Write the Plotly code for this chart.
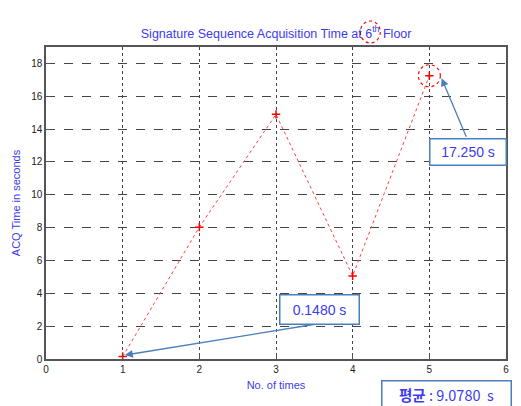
import plotly.graph_objects as go

trials = [1, 2, 3, 4, 5]
acq_time = [0.148, 8.03, 14.9, 5.06, 17.25]
x_ticks = [0, 1, 2, 3, 4, 5, 6]
y_ticks = [0, 2, 4, 6, 8, 10, 12, 14, 16, 18]
mean_val = 9.078

BLUE_TXT = "#3b3bf0"
BOX = "#4a7ebb"
FONT = "Liberation Sans"

fig = go.Figure()
fig.add_trace(go.Scatter(
    x=trials, y=acq_time, mode="lines+markers",
    line=dict(color="#ff4040", width=1, dash="dot"),
    marker=dict(symbol="cross-thin", size=6, color="red", line=dict(color="red", width=1.5)),
    showlegend=False, cliponaxis=False,
))

fig.update_layout(
    width=521, height=406,
    margin=dict(l=46, r=13, t=47, b=47),
    paper_bgcolor="white", plot_bgcolor="white",
    title=dict(text="Signature Sequence Acquisition Time at 6<sup>th</sup> Floor",
               x=0.53, xanchor="center", y=0.918, yanchor="middle",
               font=dict(family=FONT, size=12.5, color=BLUE_TXT)),
    xaxis=dict(range=[0, 6], tickvals=x_ticks, showgrid=True, gridcolor="#444",
               griddash="dot", gridwidth=1, zeroline=False, showline=True,
               linecolor="#555", linewidth=1.5, mirror=True, ticks="inside", ticklen=4,
               tickcolor="#555", tickfont=dict(family=FONT, size=10, color="#222"),
               title=dict(text="No. of times", font=dict(family=FONT, size=11, color=BLUE_TXT), standoff=8)),
    yaxis=dict(range=[0, 19], tickvals=y_ticks, showgrid=True, gridcolor="#444",
               griddash="dash", gridwidth=1, zeroline=False, showline=True,
               linecolor="#555", linewidth=1.5, mirror=True, ticks="inside", ticklen=4,
               tickcolor="#555", tickfont=dict(family=FONT, size=10, color="#222"),
               title=dict(text="ACQ Time in seconds", font=dict(family=FONT, size=11, color=BLUE_TXT), standoff=8)),
)

# circles
fig.add_shape(type="circle", xref="x", yref="y", xsizemode="pixel", ysizemode="pixel",
              xanchor=trials[4], yanchor=acq_time[4], x0=-11, x1=11, y0=-11, y1=11,
              line=dict(color="red", width=1.2, dash="dot"))
fig.add_shape(type="circle", xref="paper", yref="paper", xsizemode="pixel", ysizemode="pixel",
              xanchor=0.705, yanchor=1.048, x0=-10, x1=10, y0=-11, y1=11,
              line=dict(color="red", width=1.2, dash="dot"))

# arrows
fig.add_annotation(x=1.03, y=0.24, ax=3.53, ay=2.13, axref="x", ayref="y", xref="x", yref="y",
                   text="", showarrow=True, arrowhead=2, arrowsize=1.2, arrowwidth=1.3, arrowcolor=BOX)
fig.add_annotation(x=5.16, y=17.09, ax=5.49, ay=13.44, axref="x", ayref="y", xref="x", yref="y",
                   text="", showarrow=True, arrowhead=2, arrowsize=1.2, arrowwidth=1.3, arrowcolor=BOX)

# boxes
fig.add_annotation(x=3.57, y=3.04, xref="x", yref="y", xanchor="center", yanchor="middle",
                   text=f"{acq_time[0]:.4f} s", showarrow=False,
                   font=dict(family=FONT, size=14, color=BLUE_TXT), bgcolor="white",
                   bordercolor=BOX, borderwidth=1.5, borderpad=4, width=70, height=20)
fig.add_annotation(x=5.51, y=12.62, xref="x", yref="y", xanchor="center", yanchor="middle",
                   text=f"{acq_time[4]:.3f} s", showarrow=False,
                   font=dict(family=FONT, size=14, color=BLUE_TXT), bgcolor="white",
                   bordercolor=BOX, borderwidth=1.5, borderpad=3, width=69, height=19)
fig.add_annotation(x=0.871, y=-0.113, xref="paper", yref="paper", xanchor="center", yanchor="middle",
                   text=f"<b>평균</b> : {mean_val:.4f}  s",
                   showarrow=False, font=dict(family="Noto Sans CJK KR", size=14.5, color=BLUE_TXT),
                   bgcolor="white", bordercolor=BOX, borderwidth=1.5, borderpad=3, width=122, height=20)

fig.write_html("out.html")
